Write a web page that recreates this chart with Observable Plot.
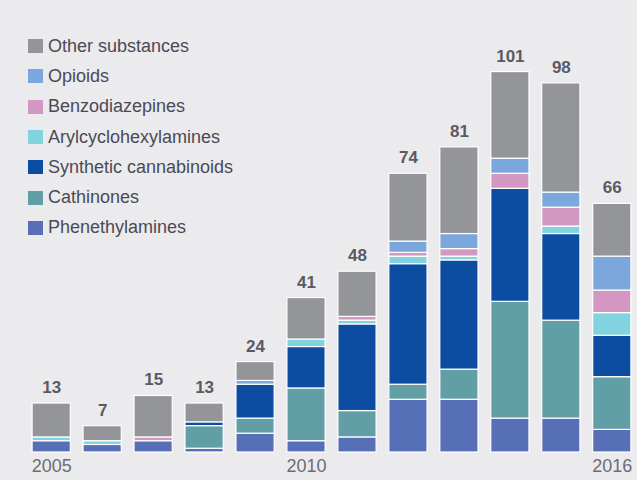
<!DOCTYPE html>
<html>
<head>
<meta charset="utf-8">
<script src="https://cdn.jsdelivr.net/npm/d3@7"></script>
<script src="https://cdn.jsdelivr.net/npm/@observablehq/plot@0.6"></script>
<style>
  html, body { margin: 0; padding: 0; background: #ebebee; }
  #wrap { position: relative; width: 637px; height: 480px; font-family: "Liberation Sans", Arial, sans-serif; }
  #legend { position: absolute; left: 28px; top: 31px; }
  .item { display: flex; align-items: center; height: 30.3px; font-size: 18px; color: #4a4a55; }
  .sw { width: 15px; height: 14px; margin-right: 5px; }
</style>
</head>
<body>
<div id="wrap"><div id="chart"></div><div id="legend"></div></div>
<script>
const years = ["2005","2006","2007","2008","2009","2010","2011","2012","2013","2014","2015","2016"];
const categories = ["Phenethylamines","Cathinones","Synthetic cannabinoids","Arylcyclohexylamines","Benzodiazepines","Opioids","Other substances"];
const colors = ["#566fb6","#629ea6","#0c4da2","#80d3df","#d397c4","#7ba7dc","#939598"];
const phenethylamines = [3,2,3,1,5,3,4,14,14,9,9,6];
const cathinones = [0,0,0,6,4,14,7,4,8,31,26,14];
const syntheticCannabinoids = [0,0,0,1,9,11,23,32,29,30,23,11];
const arylcyclohexylamines = [1,1,0,0,0,2,1,2,1,0,2,6];
const benzodiazepines = [0,0,1,0,0,0,1,1,2,4,5,6];
const opioids = [0,0,0,0,1,0,0,3,4,4,4,9];
const otherSubstances = [9,4,11,5,5,11,12,18,23,23,29,14];
const xTicks = ["2005","2010","2016"];

const series = [phenethylamines, cathinones, syntheticCannabinoids, arylcyclohexylamines, benzodiazepines, opioids, otherSubstances];
const rows = [];
categories.forEach((c, i) => years.forEach((y, j) => rows.push({year: y, category: c, value: series[i][j]})));
const totals = years.map((y, j) => ({year: y, total: d3.sum(series, s => s[j])}));

const chart = Plot.plot({
  width: 637,
  height: 480,
  marginLeft: 27,
  marginRight: 1,
  marginTop: 0,
  marginBottom: 28,
  style: {background: "#ebebee", fontFamily: "'Liberation Sans', Arial, sans-serif"},
  x: {domain: years, paddingInner: 0.25, paddingOuter: 0.1, round: false, label: null},
  y: {domain: [0, 120], axis: null},
  color: {domain: categories, range: colors},
  marks: [
    Plot.barY(rows, {x: "year", y: "value", fill: "category", stroke: "white", strokeWidth: 1.2}),
    Plot.text(totals, {x: "year", y: "total", text: d => String(d.total), dy: -16, fontSize: 17, fontWeight: "bold", fill: "#5a5a62"}),
    Plot.axisX({ticks: xTicks, tickSize: 0, tickPadding: 7, fontSize: 18, color: "#6c6c72", tickFormat: d => d, label: null})
  ]
});
document.getElementById("chart").appendChild(chart);

const legend = document.getElementById("legend");
categories.slice().reverse().forEach((c) => {
  const i = categories.indexOf(c);
  const div = document.createElement("div");
  div.className = "item";
  div.innerHTML = `<span class="sw" style="background:${colors[i]}"></span>${c}`;
  legend.appendChild(div);
});
</script>
</body>
</html>
